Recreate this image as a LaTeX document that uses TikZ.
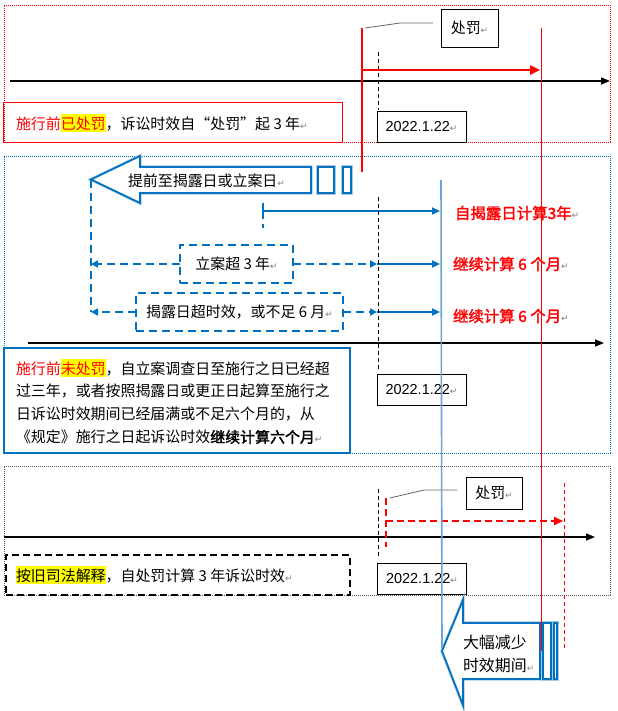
\documentclass[tikz,border=0pt]{standalone}
\usepackage{fontspec}
\setmainfont{Noto Sans CJK SC}
\newfontfamily\cjkbf[FakeBold=2]{Noto Sans CJK SC}
\newfontfamily\latf{Liberation Sans}
\newfontfamily\dvf{DejaVu Sans}
\usetikzlibrary{arrows.meta}
\definecolor{mblue}{RGB}{0,112,192}
\definecolor{lblue}{RGB}{110,165,215}
\definecolor{hlyel}{RGB}{255,255,0}
\newcommand{\retmark}{{\dvf\fontsize{9}{9}\selectfont\textcolor{gray}{↵}}}
\newcommand{\hlmark}[1]{{\setlength{\fboxsep}{0pt}\colorbox{hlyel}{\rule[-0.2em]{0pt}{1.22em}#1}}}
\begin{document}
\begin{tikzpicture}[x=1bp,y=-1bp,
 every node/.style={inner sep=0pt, outer sep=0pt},
 txt/.style={anchor=west, font=\fontsize{15}{18}\selectfont},
 rtxt/.style={anchor=west, text=red, font=\cjkbf\fontsize{15.5}{18}\selectfont},
 sect/.style={line width=0.8bp, dash pattern=on 1bp off 1bp},
 datebox/.style={draw, fill=white, line width=0.8bp, minimum width=89bp, minimum height=31bp, font=\latf\fontsize{14.5}{16}\selectfont},
 callbox/.style={draw, fill=white, line width=0.8bp, minimum width=57bp, font=\fontsize{15}{18}\selectfont},
 axis/.style={line width=1.2bp, -{Triangle[length=9bp,width=7bp]}},
 vdash/.style={line width=1bp, dash pattern=on 4bp off 3bp},
 bdash/.style={mblue, line width=2bp, dash pattern=on 8bp off 5bp},
 bdarr/.style={bdash, -{Triangle[length=7bp,width=7bp]}},
 barr/.style={mblue, line width=1.8bp, -{Triangle[length=8bp,width=7bp]}},
 blkhalo/.style={draw=lblue!60, line width=3.2bp, line join=miter},
 blk/.style={draw=mblue, line width=1.8bp, fill=white, line join=miter},
 leader/.style={gray!80!black, line width=0.8bp}
]
\useasboundingbox (0,0) rectangle (618,711);
\fill[white] (0,0) rectangle (618,711);

% ---------- section frames ----------
\node[draw=red, sect, minimum width=606bp, minimum height=137bp] (sec1) at (307,73.5) {};
\node[draw=mblue, sect, minimum width=606bp, minimum height=297bp] (sec2) at (307,304.5) {};
\node[draw=gray!70!black, sect, minimum width=606bp, minimum height=129bp] (sec3) at (307,530.5) {};

% ---------- section 1 ----------
\coordinate (ax1a) at (10,81); \coordinate (ax1b) at (610,81);
\draw[axis] (ax1a) -- (ax1b);
\node[draw=red, line width=1bp, minimum width=338bp, minimum height=39bp] (t1box) at (173,122.5) {};
\node[txt] (t1) at (16,123) {\textcolor{red}{施行前}\hlmark{\textcolor{red}{已处罚}}，诉讼时效自\makebox[15bp][r]{“}处罚\makebox[15bp][l]{”}起 3 年\retmark};
\node[datebox] (d1) at (421.5,126.5) {2022.1.22\retmark};
\coordinate (v1a) at (378,52); \coordinate (v1b) at (378,110);
\draw[vdash] (v1a) -- (v1b);
\node[callbox, minimum height=38bp] (cb1) at (469.5,28) {处罚\retmark};
\coordinate (ld1a) at (365,28); \coordinate (ld1b) at (400,23); \coordinate (ld1c) at (433,23);
\draw[leader] (ld1a) -- (ld1b) -- (ld1c);
\coordinate (rt1) at (362,28); \coordinate (rb1) at (362,172);
\coordinate (ra1) at (362,70); \coordinate (ra2) at (540,70);
\draw[red, line width=2.4bp] (rt1) -- (rb1);
\draw[red, line width=2.4bp, -{Triangle[length=10bp,width=9bp]}] (ra1) -- (ra2);

% ---------- section 2 ----------
\coordinate (ax2a) at (28,343); \coordinate (ax2b) at (604,343);
\draw[axis] (ax2a) -- (ax2b);
% big left arrow
\coordinate (tipA) at (91,179.5);
\draw[blkhalo] (tipA) -- (140,156) -- (140,167) -- (311,167) -- (311,193) -- (140,193) -- (140,203) -- cycle;
\draw[blk] (tipA) -- (140,156) -- (140,167) -- (311,167) -- (311,193) -- (140,193) -- (140,203) -- cycle;
\draw[blkhalo] (318,167) rectangle (334,193);
\draw[blk] (318,167) rectangle (334,193);
\draw[blkhalo] (343,167) rectangle (351,193);
\draw[blk] (343,167) rectangle (351,193);
\node[txt] (tA) at (128,181) {提前至揭露日或立案日\retmark};
% row 0
\coordinate (c0a) at (263,203); \coordinate (c0b) at (263,211); \coordinate (c0c) at (440,211); \coordinate (c0d) at (263,228);
\draw[mblue, line width=1.8bp] (c0a) -- (c0b);
\draw[barr] (c0b) -- (c0c);
\draw[bdash] (c0b) -- (c0d);
\node[rtxt] (r0) at (455,213) {自揭露日计算3年\retmark};
% left dashed vertical
\coordinate (lv) at (91,312);
\draw[bdash] (tipA) -- (lv);
% row A
\node[draw=mblue, line width=2bp, dash pattern=on 8bp off 5bp, fill=white, minimum width=113bp, minimum height=38bp, font=\fontsize{15}{18}\selectfont] (bxA) at (236.5,264) {立案超 3 年\retmark};
\coordinate (aL) at (91,264); \coordinate (aR) at (377,264); \coordinate (aE) at (440,264);
\draw[bdarr] (bxA.west) -- (aL);
\draw[bdarr] (bxA.east) -- (aR);
\draw[barr] (aR) -- (aE);
\node[rtxt] (rA) at (453,264) {继续计算 6 个月\retmark};
% row B
\node[draw=mblue, line width=2bp, dash pattern=on 8bp off 5bp, fill=white, minimum width=207bp, minimum height=38bp, font=\fontsize{15}{18}\selectfont] (bxB) at (239.5,312) {揭露日超时效，或不足 6 月\retmark};
\coordinate (bL) at (91,312); \coordinate (bR) at (377,312); \coordinate (bE) at (440,312);
\draw[bdarr] (bxB.west) -- (bL);
\draw[bdarr] (bxB.east) -- (bR);
\draw[barr] (bR) -- (bE);
\node[rtxt] (rB) at (453,316) {继续计算 6 个月\retmark};
% black dashed
\coordinate (v2a) at (378,197); \coordinate (v2b) at (378,372);
\draw[vdash] (v2a) -- (v2b);
% blue text box
\node[draw=mblue, line width=2bp, fill=white, minimum width=346bp, minimum height=105bp] (t2box) at (177,400.5) {};
\node[txt] (l1) at (16,368) {\textcolor{red}{施行前}\hlmark{\textcolor{red}{未处罚}}，自立案调查日至施行之日已经超};
\node[txt] (l2) at (16,391) {过三年，或者按照揭露日或更正日起算至施行之};
\node[txt] (l3) at (16,414) {日诉讼时效期间已经届满或不足六个月的，从};
\node[txt] (l4) at (16,437) {《规定》施行之日起诉讼时效{\cjkbf 继续计算六个月}\retmark};
\node[datebox] (d2) at (421.5,389.5) {2022.1.22\retmark};

% ---------- section 3 ----------
\coordinate (ax3a) at (4,537); \coordinate (ax3b) at (595,537);
\draw[axis] (ax3a) -- (ax3b);
\coordinate (v3a) at (378,489); \coordinate (v3b) at (378,558);
\draw[vdash] (v3a) -- (v3b);
\coordinate (r3a) at (386,498); \coordinate (r3b) at (386,547);
\coordinate (r3c) at (386,521); \coordinate (r3d) at (563,521);
\draw[red, line width=2bp, dash pattern=on 7bp off 4bp] (r3a) -- (r3b);
\draw[red, line width=2bp, dash pattern=on 7bp off 4bp, -{Triangle[length=9bp,width=8bp]}] (r3c) -- (r3d);
\coordinate (r3e) at (564,483); \coordinate (r3f) at (564,650);
\draw[red, line width=1bp, dash pattern=on 4bp off 3bp] (r3e) -- (r3f);
\node[callbox, minimum width=56bp, minimum height=32bp] (cb3) at (494,493) {处罚\retmark};
\coordinate (ld3a) at (390,498); \coordinate (ld3b) at (424,490); \coordinate (ld3c) at (457,490);
\draw[leader] (ld3a) -- (ld3b) -- (ld3c);
\node[draw, line width=2bp, dash pattern=on 7bp off 4bp, minimum width=344bp, minimum height=40bp] (t3box) at (178,575) {};
\node[txt] (t3) at (16,575) {\hlmark{按旧司法解释}，自处罚计算 3 年诉讼时效\retmark};
\node[datebox] (d3) at (422,579) {2022.1.22\retmark};

% ---------- long verticals and bottom arrow ----------
\coordinate (lbTop) at (441,180); \coordinate (tipB) at (442,651);
\draw[lblue, line width=1.6bp] (lbTop) -- (tipB);
\draw[blkhalo] (tipB) -- (463,600) -- (463,623) -- (540,623) -- (540,679) -- (463,679) -- (463,705) -- cycle;
\draw[blk] (tipB) -- (463,600) -- (463,623) -- (540,623) -- (540,679) -- (463,679) -- (463,705) -- cycle;
\draw[blkhalo] (543,623) rectangle (551,679);
\draw[blk] (543,623) rectangle (551,679);
\draw[blkhalo] (554,623) rectangle (557,679);
\draw[blk] (554,623) rectangle (557,679);
\node[txt, font=\fontsize{16}{18}\selectfont] (tB1) at (463,642) {大幅减少};
\node[txt, font=\fontsize{16}{18}\selectfont] (tB2) at (463,665) {时效期间\retmark};
\coordinate (rlTop) at (541,28); \coordinate (rlBot) at (541,651);
\draw[red, line width=0.9bp] (rlTop) -- (rlBot);
\end{tikzpicture}
\end{document}
